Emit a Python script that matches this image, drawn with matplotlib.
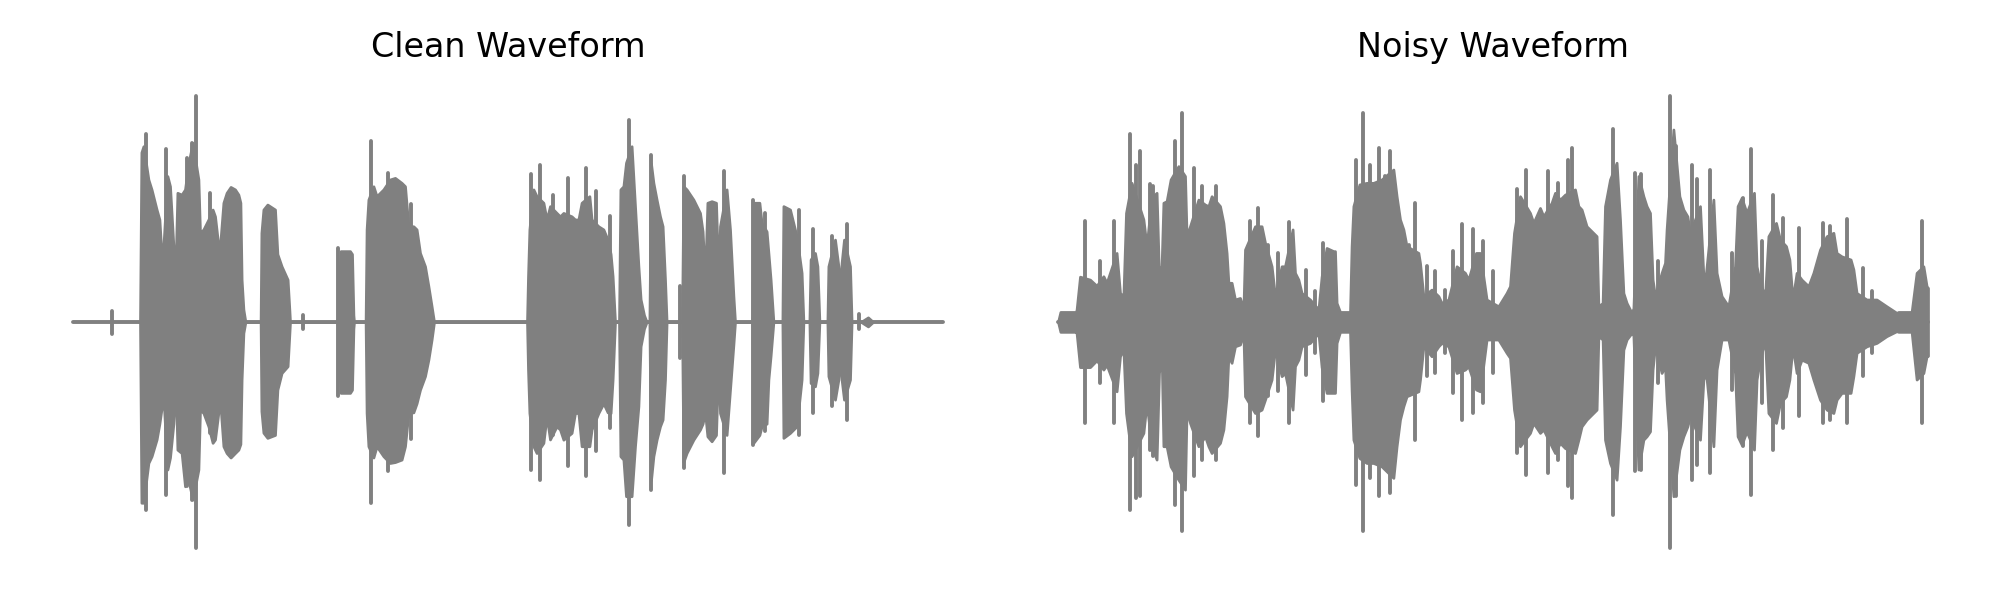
import numpy as np
import matplotlib
matplotlib.use("Agg")
import matplotlib.pyplot as plt

# waveform envelopes (time in s, amplitude normalised to peak)
duration = 4.35

clean_env_t = [0.330, 0.335, 0.342, 0.352, 0.377, 0.393, 0.418, 0.432, 0.440, 0.452, 0.472, 0.485,
               0.502, 0.513, 0.522, 0.543, 0.560, 0.577, 0.598, 0.627, 0.635, 0.652, 0.677, 0.698,
               0.710, 0.727, 0.735, 0.752, 0.768, 0.788, 0.810, 0.827, 0.837, 0.843, 0.852, 0.862,
               0.938, 0.942, 0.952, 0.972, 1.010, 1.022, 1.043, 1.073, 1.082, 1.085,
               1.323, 1.338, 1.385, 1.395, 1.402, 1.405,
               1.463, 1.468, 1.477, 1.502, 1.518, 1.552, 1.585, 1.610, 1.643, 1.660, 1.677, 1.702,
               1.718, 1.735, 1.760, 1.777, 1.793, 1.805,
               2.270, 2.275, 2.282, 2.302, 2.318, 2.352, 2.368, 2.385, 2.418, 2.435, 2.452, 2.493,
               2.510, 2.527, 2.543, 2.582, 2.593, 2.627, 2.652, 2.673, 2.688, 2.698, 2.710,
               2.730, 2.737, 2.752, 2.765, 2.793, 2.810, 2.827, 2.838, 2.855, 2.868,
               2.882, 2.890, 2.902, 2.918, 2.935, 2.948, 2.960, 2.968,
               3.045, 3.052, 3.068, 3.102, 3.135, 3.148, 3.160, 3.172, 3.193, 3.215, 3.227, 3.235,
               3.268, 3.285, 3.302, 3.310,
               3.397, 3.402, 3.432, 3.443, 3.468, 3.477, 3.488, 3.502,
               3.547, 3.552, 3.585, 3.618, 3.643, 3.652,
               3.682, 3.688, 3.710, 3.722, 3.732,
               3.772, 3.777, 3.810, 3.827, 3.835, 3.843, 3.855, 3.885, 3.893,
               3.940, 3.975, 4.000]
clean_env_hi = [0.0, 0.0, 0.75, 0.777, 0.63, 0.585, 0.497, 0.453, 0.335, 0.335, 0.645, 0.6,
                0.335, 0.254, 0.571, 0.563, 0.586, 0.7, 0.792, 0.63, 0.394, 0.409, 0.453, 0.497,
                0.467, 0.335, 0.335, 0.527, 0.571, 0.597, 0.586, 0.563, 0.527, 0.187, 0.055, 0.0,
                0.0, 0.394, 0.497, 0.519, 0.497, 0.3, 0.246, 0.187, 0.05, 0.0,
                0.0, 0.313, 0.313, 0.30, 0.03, 0.0,
                0.0, 0.409, 0.541, 0.6, 0.556, 0.586, 0.63, 0.637, 0.615, 0.6, 0.423, 0.423,
                0.409, 0.305, 0.246, 0.158, 0.069, 0.0,
                0.0, 0.2, 0.409, 0.586, 0.556, 0.527, 0.453, 0.512, 0.482, 0.467, 0.482, 0.467,
                0.453, 0.453, 0.527, 0.556, 0.453, 0.423, 0.409, 0.364, 0.30, 0.202, 0.0,
                0.0, 0.586, 0.6, 0.704, 0.777, 0.512, 0.246, 0.1, 0.03, 0.0,
                0.0, 0.70, 0.615, 0.541, 0.467, 0.423, 0.187, 0.0,
                0.0, 0.6, 0.586, 0.541, 0.482, 0.40, 0.187, 0.527, 0.534, 0.527, 0.187, 0.423,
                0.586, 0.409, 0.114, 0.0,
                0.0, 0.527, 0.527, 0.438, 0.40, 0.305, 0.187, 0.0,
                0.0, 0.512, 0.497, 0.379, 0.217, 0.0,
                0.0, 0.276, 0.305, 0.246, 0.0,
                0.0, 0.246, 0.364, 0.246, 0.143, 0.261, 0.364, 0.246, 0.0,
                0.0, 0.02, 0.0]
clean_env_lo = [0.0, 0.0, -0.80, -0.80, -0.624, -0.594, -0.52, -0.45, -0.40, -0.329, -0.653, -0.60,
                -0.45, -0.255, -0.565, -0.58, -0.727, -0.70, -0.786, -0.653, -0.388, -0.403, -0.462, -0.535,
                -0.52, -0.40, -0.344, -0.55, -0.58, -0.60, -0.58, -0.565, -0.54, -0.255, -0.049, 0.0,
                0.0, -0.395, -0.49, -0.513, -0.50, -0.30, -0.226, -0.196, -0.05, 0.0,
                0.0, -0.314, -0.314, -0.30, -0.03, 0.0,
                0.0, -0.403, -0.55, -0.60, -0.55, -0.594, -0.624, -0.62, -0.609, -0.55, -0.403, -0.40,
                -0.36, -0.30, -0.24, -0.167, -0.078, 0.0,
                0.0, -0.211, -0.403, -0.55, -0.58, -0.535, -0.417, -0.52, -0.462, -0.476, -0.521, -0.491,
                -0.403, -0.403, -0.55, -0.55, -0.476, -0.403, -0.36, -0.40, -0.403, -0.255, 0.0,
                0.0, -0.594, -0.609, -0.771, -0.771, -0.55, -0.373, -0.108, -0.03, 0.0,
                0.0, -0.70, -0.594, -0.521, -0.462, -0.432, -0.255, 0.0,
                0.0, -0.62, -0.58, -0.521, -0.476, -0.45, -0.40, -0.506, -0.528, -0.50, -0.167, -0.403,
                -0.50, -0.30, -0.10, 0.0,
                0.0, -0.535, -0.50, -0.462, -0.45, -0.255, -0.15, 0.0,
                0.0, -0.513, -0.491, -0.462, -0.255, 0.0,
                0.0, -0.27, -0.285, -0.226, 0.0,
                0.0, -0.24, -0.344, -0.255, -0.137, -0.255, -0.344, -0.255, 0.0,
                0.0, -0.02, 0.0]

clean_spk_t = [0.193, 0.365, 0.465, 0.572, 0.593, 0.615, 0.685, 1.152, 1.327, 1.490, 1.573, 1.688,
               2.290, 2.335, 2.402, 2.477, 2.565, 2.613, 2.685, 2.778, 2.888, 3.035, 3.055, 3.257,
               3.402, 3.460, 3.632, 3.698, 3.793, 3.872, 3.930]
clean_spk_hi = [0.05, 0.829, 0.763, 0.726, 0.792, 0.998, 0.571, 0.03, 0.327, 0.80, 0.659, 0.52,
                0.652, 0.692, 0.563, 0.637, 0.681, 0.578, 0.467, 0.895, 0.74, 0.158, 0.645, 0.667,
                0.541, 0.482, 0.497, 0.409, 0.379, 0.431, 0.033]
clean_spk_lo = [-0.052, -0.83, -0.764, -0.727, -0.786, -0.999, -0.49, -0.03, -0.329, -0.80, -0.661, -0.52,
                -0.653, -0.698, -0.50, -0.639, -0.683, -0.572, -0.469, -0.897, -0.742, -0.159, -0.646, -0.668,
                -0.543, -0.484, -0.50, -0.403, -0.373, -0.432, -0.033]

noisy_env_t = [0.000, 0.012, 0.090, 0.093, 0.110, 0.160, 0.193, 0.227, 0.243, 0.293, 0.310, 0.327,
               0.340, 0.368, 0.427, 0.443, 0.468, 0.493, 0.505, 0.518, 0.527, 0.543, 0.563, 0.602,
               0.635, 0.643, 0.660, 0.702, 0.735, 0.752, 0.768, 0.810, 0.827, 0.843, 0.852, 0.868,
               0.885, 0.910, 0.927, 0.935, 0.985, 1.018, 1.035, 1.068, 1.085, 1.118, 1.135, 1.173,
               1.185, 1.202, 1.218, 1.260, 1.302, 1.318, 1.343, 1.377, 1.385, 1.393, 1.410, 1.460,
               1.468, 1.477, 1.507, 1.543, 1.577, 1.618, 1.677, 1.693, 1.710, 1.727, 1.743, 1.802,
               1.810, 1.827, 1.868, 1.902, 1.918, 1.952, 1.993, 2.035, 2.052, 2.090, 2.110, 2.143,
               2.202, 2.243, 2.260, 2.280, 2.310, 2.360, 2.377, 2.410, 2.427, 2.468, 2.485, 2.510,
               2.535, 2.585, 2.602, 2.618, 2.643, 2.693, 2.702, 2.723, 2.735, 2.760, 2.793, 2.810,
               2.827, 2.843, 2.868, 2.877, 2.902, 2.927, 2.943, 2.960, 2.973, 2.985, 3.018, 3.035,
               3.043, 3.077, 3.107, 3.127, 3.147, 3.160, 3.210, 3.227, 3.240, 3.277, 3.293, 3.318,
               3.352, 3.385, 3.398, 3.418, 3.443, 3.480, 3.493, 3.510, 3.535, 3.552, 3.590, 3.610,
               3.640, 3.657, 3.673, 3.693, 3.718, 3.752, 3.777, 3.810, 3.843, 3.877, 3.893, 3.918,
               3.963, 3.977, 3.993, 4.043, 4.093, 4.143, 4.193, 4.202, 4.268, 4.293, 4.327, 4.343,
               4.350]
noisy_env_hi = [0.0, 0.044, 0.044, 0.055, 0.2, 0.187, 0.16, 0.202, 0.173, 0.305, 0.128, 0.114,
                0.482, 0.615, 0.453, 0.335, 0.55, 0.571, 0.202, 0.25, 0.527, 0.534, 0.63, 0.689,
                0.645, 0.379, 0.423, 0.541, 0.519, 0.512, 0.556, 0.512, 0.438, 0.305, 0.173, 0.173,
                0.099, 0.106, 0.055, 0.32, 0.423, 0.423, 0.35, 0.246, 0.114, 0.246, 0.246, 0.409,
                0.217, 0.187, 0.128, 0.099, 0.055, 0.2, 0.327, 0.313, 0.313, 0.084, 0.044, 0.044,
                0.335, 0.512, 0.608, 0.615, 0.615, 0.63, 0.674, 0.556, 0.453, 0.409, 0.335, 0.305,
                0.261, 0.114, 0.143, 0.114, 0.084, 0.099, 0.246, 0.217, 0.187, 0.305, 0.305, 0.099,
                0.069, 0.128, 0.158, 0.394, 0.556, 0.482, 0.438, 0.504, 0.467, 0.527, 0.571, 0.541,
                0.563, 0.586, 0.512, 0.497, 0.423, 0.379, 0.069, 0.084, 0.512, 0.63, 0.704, 0.453,
                0.128, 0.084, 0.04, 0.06, 0.645, 0.556, 0.512, 0.482, 0.187, 0.114, 0.217, 0.261,
                0.409, 0.851, 0.556, 0.497, 0.467, 0.394, 0.512, 0.202, 0.217, 0.541, 0.217, 0.114,
                0.069, 0.246, 0.512, 0.549, 0.482, 0.571, 0.246, 0.173, 0.114, 0.379, 0.438, 0.364,
                0.335, 0.276, 0.099, 0.217, 0.187, 0.158, 0.217, 0.32, 0.379, 0.394, 0.305, 0.290,
                0.276, 0.232, 0.128, 0.099, 0.099, 0.069, 0.04, 0.044, 0.044, 0.217, 0.246, 0.158,
                0.15]
noisy_env_lo = [0.0, -0.044, -0.044, -0.05, -0.2, -0.20, -0.17, -0.211, -0.19, -0.307, -0.152, -0.122,
                -0.403, -0.594, -0.491, -0.358, -0.55, -0.609, -0.226, -0.14, -0.55, -0.55, -0.639, -0.698,
                -0.742, -0.388, -0.447, -0.55, -0.506, -0.55, -0.58, -0.535, -0.476, -0.329, -0.152, -0.181,
                -0.108, -0.10, -0.049, -0.329, -0.403, -0.388, -0.344, -0.255, -0.122, -0.24, -0.226, -0.388,
                -0.196, -0.167, -0.108, -0.093, -0.049, -0.2, -0.314, -0.314, -0.314, -0.093, -0.044, -0.044,
                -0.30, -0.521, -0.602, -0.624, -0.624, -0.639, -0.69, -0.55, -0.432, -0.373, -0.329, -0.307,
                -0.255, -0.108, -0.152, -0.108, -0.093, -0.108, -0.226, -0.211, -0.196, -0.299, -0.307, -0.078,
                -0.078, -0.137, -0.159, -0.388, -0.55, -0.491, -0.447, -0.491, -0.476, -0.55, -0.58, -0.535,
                -0.558, -0.58, -0.521, -0.462, -0.432, -0.388, -0.063, -0.078, -0.521, -0.624, -0.698, -0.462,
                -0.123, -0.078, -0.049, -0.06, -0.653, -0.521, -0.506, -0.484, -0.211, -0.108, -0.226, -0.196,
                -0.344, -0.771, -0.565, -0.506, -0.462, -0.417, -0.521, -0.255, -0.226, -0.55, -0.211, -0.078,
                -0.078, -0.226, -0.506, -0.543, -0.484, -0.565, -0.255, -0.167, -0.078, -0.403, -0.447, -0.358,
                -0.329, -0.255, -0.108, -0.226, -0.167, -0.181, -0.255, -0.344, -0.388, -0.403, -0.344, -0.314,
                -0.314, -0.24, -0.137, -0.108, -0.093, -0.063, -0.041, -0.044, -0.044, -0.255, -0.226, -0.152,
                -0.15]

noisy_spk_t = [0.135, 0.210, 0.280, 0.360, 0.390, 0.410, 0.460, 0.477, 0.585, 0.618, 0.682, 0.718,
               0.788, 0.960, 1.002, 1.052, 1.102, 1.157, 1.240, 1.285, 1.327, 1.490, 1.527, 1.560,
               1.607, 1.635, 1.660, 1.757, 1.785, 1.847, 1.885, 1.935, 1.977, 2.018, 2.073, 2.127,
               2.177, 2.293, 2.340, 2.452, 2.498, 2.552, 2.568, 2.777, 2.885, 2.913, 3.002, 3.060,
               3.090, 3.172, 3.193, 3.260, 3.368, 3.427, 3.465, 3.522, 3.573, 3.623, 3.705, 3.827,
               3.860, 3.947, 4.027, 4.068, 4.318]
noisy_spk_hi = [0.445, 0.268, 0.445, 0.829, 0.696, 0.755, 0.608, 0.6, 0.8, 0.925, 0.681, 0.6,
                0.6, 0.445, 0.504, 0.342, 0.305, 0.441, 0.229, 0.136, 0.35, 0.718, 0.925, 0.696,
                0.77, 0.645, 0.755, 0.342, 0.527, 0.246, 0.224, 0.143, 0.313, 0.431, 0.409, 0.357,
                0.224, 0.586, 0.674, 0.667, 0.615, 0.718, 0.77, 0.851, 0.659, 0.652, 0.268, 0.999,
                0.777, 0.696, 0.63, 0.674, 0.305, 0.549, 0.763, 0.357, 0.563, 0.46, 0.416, 0.438,
                0.423, 0.453, 0.239, 0.136, 0.445]
noisy_spk_lo = [-0.447, -0.27, -0.447, -0.83, -0.779, -0.771, -0.565, -0.594, -0.808, -0.926, -0.683, -0.609,
                -0.609, -0.447, -0.506, -0.329, -0.307, -0.447, -0.233, -0.137, -0.351, -0.72, -0.926, -0.69,
                -0.771, -0.646, -0.757, -0.322, -0.521, -0.24, -0.226, -0.137, -0.314, -0.432, -0.403, -0.358,
                -0.226, -0.58, -0.676, -0.668, -0.609, -0.727, -0.779, -0.853, -0.661, -0.653, -0.27, -0.999,
                -0.771, -0.698, -0.631, -0.668, -0.299, -0.55, -0.764, -0.358, -0.565, -0.469, -0.417, -0.447,
                -0.432, -0.447, -0.24, -0.137, -0.447]

panels = [
    ("Clean Waveform", clean_env_t, clean_env_hi, clean_env_lo, clean_spk_t, clean_spk_hi, clean_spk_lo),
    ("Noisy Waveform", noisy_env_t, noisy_env_hi, noisy_env_lo, noisy_spk_t, noisy_spk_hi, noisy_spk_lo),
]

wave_color = "gray"
lw = 1.4

fig = plt.figure(figsize=(10, 3), dpi=200)
axes = [fig.add_axes([0.01475, 0.049, 0.4785, 0.829]),
        fig.add_axes([0.50725, 0.049, 0.4785, 0.829])]

for ax, (title, et, ehi, elo, st, shi, slo) in zip(axes, panels):
    ax.hlines(0, 0, duration, color=wave_color, linewidth=lw, capstyle="round")
    ax.fill_between(et, elo, ehi, color=wave_color, linewidth=lw * 0.7)
    ax.vlines(st, slo, shi, color=wave_color, linewidth=lw, capstyle="round")
    ax.set_xlim(-0.05 * duration, 1.05 * duration)
    ax.set_ylim(-1.1, 1.1)
    ax.set_title(title, fontsize=12)
    ax.axis("off")

fig.savefig("out.png", dpi=200)
